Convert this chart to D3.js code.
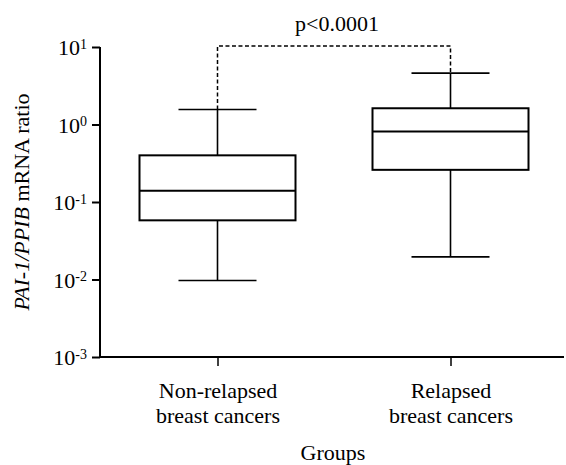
<!DOCTYPE html>
<html><head><meta charset="utf-8">
<script src="https://cdn.jsdelivr.net/npm/d3@7"></script>
<style>body{margin:0;background:#fff}svg{display:block}text{font-family:"Liberation Serif","Times New Roman",serif;fill:#000}</style>
</head><body><svg id="c" width="566" height="465"></svg>
<script>
const groups = ["Non-relapsed|breast cancers", "Relapsed|breast cancers"];
const whiskerLow = [0.0097, 0.0196];
const q1 = [0.058, 0.26];
const median = [0.14, 0.81];
const q3 = [0.40, 1.62];
const whiskerHigh = [1.56, 4.6];
const yTickExp = [1, 0, -1, -2, -3];
const pLabel = "p<0.0001";

const svg = d3.select("#c");
const x = d3.scalePoint().domain(groups).range([217.5, 450.5]);
const y = d3.scaleLog().domain([0.001, 10]).range([357, 47]);
const boxW = 156, capW = 78;

// axes
const yAxis = svg.append("g").attr("transform", "translate(100,0)")
  .call(d3.axisLeft(y).tickValues(yTickExp.map(e => Math.pow(10, e))).tickSize(8).tickFormat(""));
yAxis.select(".domain").attr("stroke-width", 2).attr("d", "M0," + y(10) + "V" + y(0.001));
yAxis.selectAll(".tick line").attr("stroke-width", 2);
yAxis.selectAll(".tick").each(function(d, i) {
  const t = d3.select(this).append("text").attr("x", -13).attr("dy", "0.35em")
    .attr("text-anchor", "end").style("font-size", "22px").attr("fill", "#000");
  t.append("tspan").text("10");
  t.append("tspan").attr("dy", "-0.45em").style("font-size", "14px").text(String(yTickExp[i]));
});

const xAxis = svg.append("g").attr("transform", "translate(0,357)")
  .call(d3.axisBottom(x).tickSize(9).tickFormat(""));
xAxis.select(".domain").attr("stroke-width", 2).attr("d", "M100,0H564");
xAxis.selectAll(".tick line").attr("stroke-width", 1.5);
xAxis.selectAll(".tick").each(function(d) {
  const parts = d.split("|");
  const t = d3.select(this).append("text").attr("text-anchor", "middle").style("font-size", "22px").attr("fill", "#000");
  parts.forEach((p, i) => t.append("tspan").attr("x", 0).attr("y", 41 + i * 25).text(p));
});

// boxes
const g = svg.append("g").attr("stroke", "#000").attr("fill", "none").attr("stroke-width", 1.6);
groups.forEach((grp, i) => {
  const cx = x(grp);
  g.append("line").attr("x1", cx).attr("x2", cx).attr("y1", y(whiskerHigh[i])).attr("y2", y(q3[i]));
  g.append("line").attr("x1", cx).attr("x2", cx).attr("y1", y(q1[i])).attr("y2", y(whiskerLow[i]));
  g.append("line").attr("x1", cx - capW / 2).attr("x2", cx + capW / 2).attr("y1", y(whiskerHigh[i])).attr("y2", y(whiskerHigh[i]));
  g.append("line").attr("x1", cx - capW / 2).attr("x2", cx + capW / 2).attr("y1", y(whiskerLow[i])).attr("y2", y(whiskerLow[i]));
  g.append("rect").attr("x", cx - boxW / 2).attr("width", boxW).attr("y", y(q3[i])).attr("height", y(q1[i]) - y(q3[i])).attr("stroke-width", 2);
  g.append("line").attr("x1", cx - boxW / 2).attr("x2", cx + boxW / 2).attr("y1", y(median[i])).attr("y2", y(median[i])).attr("stroke-width", 2);
});

// significance bracket
const by = 46;
svg.append("path").attr("fill", "none").attr("stroke", "#000").attr("stroke-width", 1.5).attr("stroke-dasharray", "4,2.5")
  .attr("d", `M${x(groups[0])},${y(whiskerHigh[0])}V${by}H${x(groups[1])}V${y(whiskerHigh[1])}`);
svg.append("text").attr("x", (x(groups[0]) + x(groups[1])) / 2 + 3).attr("y", 31).attr("text-anchor", "middle")
  .style("font-size", "22px").text(pLabel);

// axis titles
const yl = svg.append("text").attr("transform", "translate(29,202) rotate(-90)").attr("text-anchor", "middle").style("font-size", "22px");
yl.append("tspan").style("font-style", "italic").text("PAI-1/PPIB");
yl.append("tspan").text(" mRNA ratio");
svg.append("text").attr("x", 333).attr("y", 460).attr("text-anchor", "middle").style("font-size", "22px").text("Groups");
</script></body></html>
